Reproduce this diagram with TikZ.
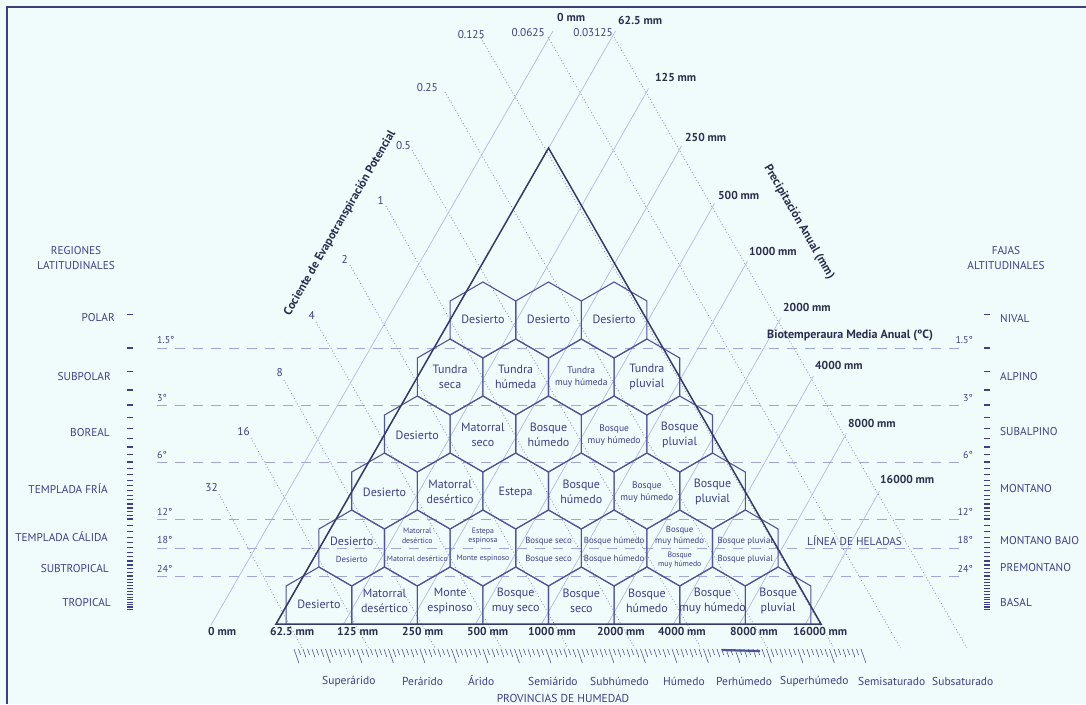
\documentclass[tikz,border=0pt]{standalone}
\usepackage{fontspec}
\setmainfont{PT Sans}
\definecolor{bgc}{HTML}{F0FCFC}
\definecolor{txtc}{HTML}{3C4088}
\definecolor{darkc}{HTML}{2B2E4F}
\definecolor{hexc}{HTML}{4F5499}
\definecolor{tric}{HTML}{363A68}
\definecolor{precc}{HTML}{A9B2E6}
\definecolor{petc}{HTML}{7E86C0}
\definecolor{dashc}{HTML}{9FA6DD}
\definecolor{framec}{HTML}{3A4078}
\begin{document}
\begin{tikzpicture}[x=1pt,y=-1pt,
  hexline/.style={draw=hexc,line width=1.1pt,line join=miter},
  triline/.style={draw=tric,line width=1.5pt},
  precline/.style={draw=precc,line width=0.6pt},
  petline/.style={draw=petc,line width=0.8pt,dash pattern=on 0.8pt off 2.2pt},
  templine/.style={draw=dashc,line width=0.9pt,dash pattern=on 10pt off 8pt},
  tickmark/.style={draw=txtc,line width=1.1pt},
  hatch/.style={draw=hexc,line width=0.6pt},
  hl/.style={text=txtc,align=center,inner sep=0pt,font=\fontsize{12}{14.5}\selectfont},
  hm/.style={text=txtc,align=center,inner sep=0pt,font=\fontsize{9.5}{12}\selectfont},
  hs/.style={text=txtc,align=center,inner sep=0pt,font=\fontsize{8.8}{10.5}\selectfont},
  hx/.style={text=txtc,align=center,inner sep=0pt,font=\fontsize{7.8}{9.5}\selectfont},
  reg/.style={text=txtc,inner sep=0pt,font=\fontsize{11.3}{15}\selectfont},
  deg/.style={text=txtc,inner sep=0pt,font=\fontsize{10}{12}\selectfont},
  mm/.style={text=darkc,inner sep=0pt,font=\bfseries\fontsize{11.5}{13}\selectfont},
  pet/.style={text=txtc,inner sep=0pt,font=\fontsize{11.3}{13}\selectfont},
  ttl/.style={text=darkc,inner sep=0pt,font=\bfseries\fontsize{12}{14}\selectfont},
  prov/.style={text=txtc,inner sep=0pt,font=\fontsize{11.5}{13}\selectfont}]
\fill[bgc] (0,0) rectangle (1086,704);
\useasboundingbox (0,0) rectangle (1086,704);
\draw[framec,line width=1.5pt] (7,704) -- (7,7) -- (1086,7);

% temperature dashed lines
\foreach \yy in {348,405,462,519,548,576}{
  \draw[templine] (157,\yy) -- (966,\yy);
}

% PET dotted lines (top -> bottom)
\foreach \xt/\yt/\xb in {614/37/967,548/37/900.5,481/38/834,445/92/767.5,412/150/701,
  386/206/634.5,350/265/568,316/322/501.5,284/380/435,251/438/368.5,219/494/302}{
  \draw[petline] (\xt,\yt) -- (\xb,648);
}

% precipitation lines
\foreach \xt/\yt/\xb in {553/31/211,615.5/31/276,648.5/88.5/343,681.5/146/409,714.5/203.5/475,
  747.5/261/541,780.5/318.5/607,813.5/376/673,846.5/433.5/739,879.5/491/805}{
  \draw[precline] (\xt,\yt) -- (\xb,625);
}

% hexagons rows 1-5
\foreach \row/\n in {1/3,2/4,3/5,4/6,5/7}{
  \foreach \i in {1,...,\n}{
    \pgfmathsetmacro\cx{548.5+(\i-(\n+1)/2)*65.6}
    \pgfmathsetmacro\cy{320+57*(\row-1)}
    \draw[hexline] (\cx,\cy-38) -- (\cx+32.8,\cy-19) -- (\cx+32.8,\cy+19) -- (\cx,\cy+38)
      -- (\cx-32.8,\cy+19) -- (\cx-32.8,\cy-19) -- cycle;
  }
}
% bottom row (cut by base)
\foreach \i in {1,...,8}{
  \pgfmathsetmacro\cx{548.5+(\i-4.5)*65.6}
  \draw[hexline] (\cx-32.8,624) -- (\cx-32.8,586) -- (\cx,567) -- (\cx+32.8,586) -- (\cx+32.8,624);
}

% triangle
\draw[triline] (276,624) -- (548.5,148) -- (821,624) -- cycle;

% hex labels
\node[hl] (h11) at (482.9,319) {Desierto};
\node[hl] (h12) at (548.5,319) {Desierto};
\node[hl] (h13) at (614.1,319) {Desierto};
\node[hl] (h21) at (450.1,377) {Tundra\\seca};
\node[hl] (h22) at (515.7,377) {Tundra\\húmeda};
\node[hm] (h23) at (581.3,377) {Tundra\\muy húmeda};
\node[hl] (h24) at (646.9,377) {Tundra\\pluvial};
\node[hl] (h31) at (417.3,435) {Desierto};
\node[hl] (h32) at (482.9,435) {Matorral\\seco};
\node[hl] (h33) at (548.5,435) {Bosque\\húmedo};
\node[hm] (h34) at (614.1,435) {Bosque\\muy húmedo};
\node[hl] (h35) at (679.7,435) {Bosque\\pluvial};
\node[hl] (h41) at (384.5,492) {Desierto};
\node[hl] (h42) at (450.1,492) {Matorral\\desértico};
\node[hl] (h43) at (515.7,492) {Estepa};
\node[hl] (h44) at (581.3,492) {Bosque\\húmedo};
\node[hm] (h45) at (646.9,492) {Bosque\\muy húmedo};
\node[hl] (h46) at (712.5,492) {Bosque\\pluvial};
% row 5 upper
\node[hl] (h51a) at (351.7,541) {Desierto};
\node[hx] (h52a) at (417.3,536) {Matorral\\desértico};
\node[hx] (h53a) at (482.9,536) {Estepa\\espinosa};
\node[hs] (h54a) at (548.5,541) {Bosque seco};
\node[hs] (h55a) at (614.1,541) {Bosque húmedo};
\node[hs] (h56a) at (679.7,536) {Bosque\\muy húmedo};
\node[hs] (h57a) at (745.3,541) {Bosque pluvial};
% row 5 lower
\node[hs] (h51b) at (351.7,559) {Desierto};
\node[hx] (h52b) at (417.3,559) {Matorral desértico};
\node[hx] (h53b) at (482.9,559) {Monte espinoso};
\node[hs] (h54b) at (548.5,559) {Bosque seco};
\node[hs] (h55b) at (614.1,559) {Bosque húmedo};
\node[hx] (h56b) at (679.7,560) {Bosque\\muy húmedo};
\node[hs] (h57b) at (745.3,559) {Bosque pluvial};
% row 6
\node[hl] (h61) at (318.9,604) {Desierto};
\node[hl] (h62) at (384.5,601) {Matorral\\desértico};
\node[hl] (h63) at (450.1,601) {Monte\\espinoso};
\node[hl] (h64) at (515.7,601) {Bosque\\muy seco};
\node[hl] (h65) at (581.3,601) {Bosque\\seco};
\node[hl] (h66) at (646.9,601) {Bosque\\húmedo};
\node[hl] (h67) at (712.5,601) {Bosque\\muy húmedo};
\node[hl] (h68) at (778.1,601) {Bosque\\pluvial};

% tick columns
\foreach \t in {1,1.5,...,12.1}{
  \pgfmathsetmacro\yy{348+57*ln(\t/1.5)/0.693147}
  \draw[tickmark] (127,\yy) -- (133,\yy);
  \draw[tickmark] (984,\yy) -- (990,\yy);
}
\foreach \t in {13,14,...,36}{
  \pgfmathsetmacro\yy{348+57*ln(\t/1.5)/0.693147}
  \draw[tickmark] (127,\yy) -- (133,\yy);
  \draw[tickmark] (984,\yy) -- (990,\yy);
}

% hatch strokes under base
\foreach \k in {0,...,126}{
  \pgfmathsetmacro\xx{294+4.5*\k}
  \pgfmathsetmacro\ll{ifthenelse(mod(\k,7)==0,14,ifthenelse(mod(\k,2)==0,8,6))}
  \draw[hatch] (\xx,649) -- (\xx+0.35*\ll,649+\ll);
}
\draw[hexc,line width=2.2pt] (722,650) -- (760,651);

% left region labels
\node[reg,align=center] (regl) at (76,258) {REGIONES\\LATITUDINALES};
\node[reg,anchor=east] (polar) at (115,318) {POLAR};
\node[reg,anchor=east] (subpolar) at (111,377) {SUBPOLAR};
\node[reg,anchor=east] (boreal) at (110,433) {BOREAL};
\node[reg,anchor=east] (tfria) at (108,489) {TEMPLADA FRÍA};
\node[reg,anchor=east] (tcalida) at (108,537) {TEMPLADA CÁLIDA};
\node[reg,anchor=east] (subtrop) at (109,569) {SUBTROPICAL};
\node[reg,anchor=east] (trop) at (111,603) {TROPICAL};

% right belt labels
\node[reg,align=center] (fajas) at (1006,258) {FAJAS\\ALTITUDINALES};
\node[reg,anchor=west] (nival) at (1000,319) {NIVAL};
\node[reg,anchor=west] (alpino) at (1000,377) {ALPINO};
\node[reg,anchor=west] (subalp) at (1000,432) {SUBALPINO};
\node[reg,anchor=west] (montano) at (1000,489) {MONTANO};
\node[reg,anchor=west] (mbajo) at (1000,541) {MONTANO BAJO};
\node[reg,anchor=west] (premont) at (1000,568) {PREMONTANO};
\node[reg,anchor=west] (basal) at (1000,603) {BASAL};
\node[reg,anchor=west] (heladas) at (807,541) {LÍNEA DE HELADAS};

% temperature labels
\foreach \lab/\yy/\nm in {1.5°/340/a,3°/398/b,6°/455/c,12°/512/d,18°/540/e,24°/569/f}{
  \node[deg,anchor=west] (tl\nm) at (157,\yy) {\lab};
  \node[deg,anchor=east] (tr\nm) at (973,\yy) {\lab};
}

% precipitation labels top/right
\node[mm,anchor=west] (p0t) at (557,17) {0 mm};
\node[mm,anchor=west] (p1t) at (618,20) {62.5 mm};
\node[mm,anchor=west] (p2t) at (655,77) {125 mm};
\node[mm,anchor=west] (p3t) at (685,137) {250 mm};
\node[mm,anchor=west] (p4t) at (718,195) {500 mm};
\node[mm,anchor=west] (p5t) at (749,251) {1000 mm};
\node[mm,anchor=west] (p6t) at (783,307) {2000 mm};
\node[mm,anchor=west] (p7t) at (815,365) {4000 mm};
\node[mm,anchor=west] (p8t) at (848,423) {8000 mm};
\node[mm,anchor=west] (p9t) at (880,479) {16000 mm};
% precipitation labels bottom
\node[mm,anchor=west] (p0b) at (208,631) {0 mm};
\node[mm,anchor=west] (p1b) at (270,631) {62.5 mm};
\node[mm,anchor=west] (p2b) at (337,631) {125 mm};
\node[mm,anchor=west] (p3b) at (402,631) {250 mm};
\node[mm,anchor=west] (p4b) at (467,631) {500 mm};
\node[mm,anchor=west] (p5b) at (528,631) {1000 mm};
\node[mm,anchor=west] (p6b) at (597,631) {2000 mm};
\node[mm,anchor=west] (p7b) at (658,631) {4000 mm};
\node[mm,anchor=west] (p8b) at (730,631) {8000 mm};
\node[mm,anchor=west] (p9b) at (793,631) {16000 mm};

% PET labels
\node[pet,anchor=east] (e1) at (485,35) {0.125};
\node[pet,anchor=east] (e2) at (545,33) {0.0625};
\node[pet,anchor=east] (e3) at (613,33) {0.03125};
\node[pet,anchor=east] (e4) at (438,88) {0.25};
\node[pet,anchor=east] (e5) at (411,146) {0.5};
\node[pet,anchor=east] (e6) at (384,200) {1};
\node[pet,anchor=east] (e7) at (348,259) {2};
\node[pet,anchor=east] (e8) at (315,315) {4};
\node[pet,anchor=east] (e9) at (283,373) {8};
\node[pet,anchor=east] (e10) at (250,432) {16};
\node[pet,anchor=east] (e11) at (218,488) {32};

% titles
\node[ttl,rotate=60] (cpet) at (340,223) {Cociente de Evapotranspiración Potencial};
\node[ttl,rotate=-60] (cprec) at (799,222) {Precipitación Anual (mm)};
\node[ttl,anchor=west] (bio) at (767,336) {Biotemperaura Media Anual (ºC)};

% humidity provinces
\foreach \xx/\txt/\nm in {322/Superárido/a,402/Perárido/b,468/Árido/c,528/Semiárido/d,
  590/Subhúmedo/e,663/Húmedo/f,716/Perhúmedo/g,780/Superhúmedo/h,858/Semisaturado/i,932/Subsaturado/j}{
  \node[prov,anchor=west] (pv\nm) at (\xx,681) {\txt};
}
\node[prov] (provtitle) at (563,698) {PROVINCIAS DE HUMEDAD};
\end{tikzpicture}
\end{document}
